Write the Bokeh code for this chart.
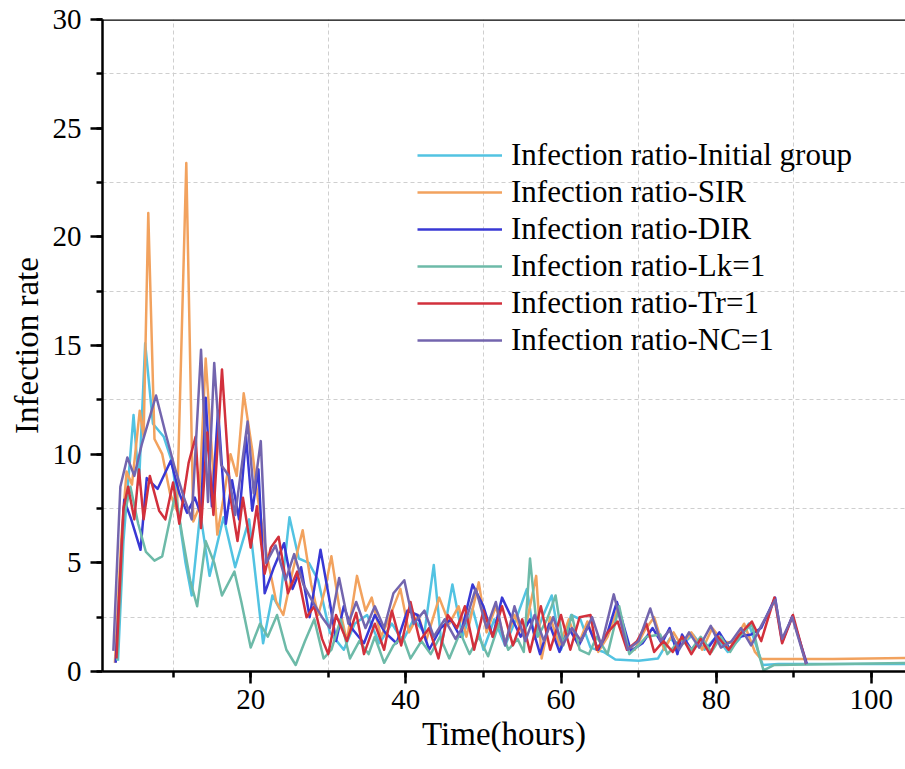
from bokeh.plotting import figure
from bokeh.models import (Range1d, SingleIntervalTicker, FixedTicker, Span, Legend)
from bokeh.embed import file_html
from bokeh.resources import INLINE

# ---------------- data ----------------
initial_x = [2.9, 3.6, 4.9, 5.6, 6.4, 7.4, 8.8, 9.9, 10.8, 11.6, 12.4, 13.5, 14.7, 16.5, 18.0, 19.8, 21.6, 22.8, 23.7,
             25.0, 26.2, 27.5, 28.7, 30.2, 32.0, 33.4, 35.0, 36.6, 38.2, 39.6, 41.0, 42.4, 43.6, 44.6, 46.0, 47.3, 48.6,
             50.0, 51.4, 52.8, 54.3, 55.6, 56.6, 57.6, 58.8, 60.0, 61.3, 62.5, 63.8, 65.5, 67.0, 70.0, 72.5, 74.0, 75.5,
             77.0, 78.5, 80.0, 81.5, 83.0, 84.2, 86.0, 88.0, 105.0]
initial_y = [0.5, 6.0, 11.8, 8.6, 15.1, 11.4, 10.8, 9.6, 7.0, 5.0, 3.5, 7.3, 4.4, 7.1, 4.8, 7.0, 1.3, 3.5, 2.9,
             7.1, 5.2, 5.0, 4.2, 1.8, 1.0, 2.2, 2.6, 1.3, 2.2, 1.4, 2.4, 1.8, 4.9, 1.2, 4.0, 1.6, 2.9,
             1.0, 2.4, 1.2, 2.5, 3.8, 1.5, 2.5, 3.5, 1.0, 2.6, 2.4, 1.1, 0.9, 0.55, 0.5, 0.6, 1.5, 1.2,
             1.7, 1.0, 1.6, 0.9, 1.5, 2.2, 0.3, 0.35, 0.35]

sir_x = [2.5, 3.3, 4.0, 4.7, 5.7, 6.2, 6.8, 7.6, 8.6, 9.6, 10.5, 11.7, 12.6, 13.3, 14.2, 15.7, 16.6, 17.4, 18.2, 19.1,
         20.2, 20.9, 22.0, 23.3, 24.2, 25.4, 26.7, 27.8, 28.7, 29.6, 30.4, 31.4, 32.4, 33.7, 34.8, 35.6, 36.8, 37.8,
         39.3, 40.4, 41.6, 42.6, 44.3, 45.6, 46.8, 47.8, 49.4, 50.4, 51.6, 52.8, 54.0, 55.2, 56.8, 57.5, 58.6, 59.8,
         61.0, 62.2, 63.4, 64.8, 66.0, 67.3, 68.5, 69.5, 70.8, 72.0, 73.3, 74.5, 75.5, 76.8, 78.2, 79.5, 80.8, 82.2,
         83.6, 85.0, 85.8, 95.0, 105.0]
sir_y = [0.4, 6.0, 9.2, 8.6, 12.0, 10.8, 21.1, 10.7, 10.0, 8.2, 7.4, 23.4, 6.9, 7.5, 14.4, 6.3, 8.2, 10.0, 9.0, 12.8,
         10.2, 8.0, 5.5, 3.2, 2.6, 4.6, 6.5, 4.0, 2.6, 3.8, 5.3, 3.0, 1.4, 4.4, 2.8, 3.4, 1.6, 2.4,
         3.8, 1.8, 2.6, 1.4, 3.4, 2.2, 3.0, 1.6, 4.1, 1.8, 3.0, 1.3, 2.6, 1.6, 4.4, 0.6, 2.5, 1.2,
         2.4, 1.2, 2.3, 0.9, 1.6, 2.9, 1.2, 1.0, 1.9, 2.5, 1.0, 1.8, 1.2, 1.8, 1.0, 2.0, 1.4, 1.3,
         2.2, 0.9, 0.57, 0.57, 0.62]

dir_x = [2.6, 3.7, 4.6, 5.8, 6.6, 8.0, 9.7, 10.8, 11.8, 12.8, 13.6, 14.2, 15.0, 15.8, 16.8, 17.6, 18.5, 19.4, 20.2,
         21.0, 21.8, 23.0, 24.3, 25.4, 26.5, 27.6, 29.0, 30.2, 31.0, 32.0, 33.0, 34.6, 36.0, 37.3, 38.8, 40.2, 41.5,
         43.0, 44.5, 45.8, 47.0, 48.6, 50.0, 51.2, 52.4, 53.6, 54.8, 56.0, 57.3, 58.5, 59.8, 61.0, 62.3, 63.5, 64.8,
         66.0, 67.2, 69.0, 70.5, 71.8, 73.0, 74.0, 75.0, 75.6, 76.8, 78.0, 79.0, 80.4, 81.8, 83.0, 84.5, 85.8, 87.6,
         88.5, 89.8, 91.7]
dir_y = [0.4, 7.9, 7.0, 5.6, 8.9, 8.4, 9.7, 8.2, 7.3, 8.0, 7.2, 12.6, 7.6, 12.0, 6.8, 8.8, 7.0, 10.8, 7.4,
         9.3, 3.6, 4.8, 5.9, 3.8, 4.8, 2.5, 5.6, 3.2, 1.4, 3.0, 2.0, 1.3, 2.6, 1.8, 1.3, 2.8, 2.6,
         1.0, 2.0, 2.4, 1.6, 4.0, 3.0, 1.6, 3.4, 2.5, 1.6, 2.4, 0.8, 2.2, 0.9, 2.0, 1.2, 2.1, 1.0,
         1.8, 3.2, 0.95, 1.3, 2.0, 1.3, 2.0, 0.8, 1.7, 1.0, 1.5, 1.1, 1.8, 1.0, 1.6, 1.7, 2.0, 3.4,
         1.35, 2.55, 0.34]

lk_x = [2.8, 3.6, 4.5, 5.5, 6.5, 7.6, 8.6, 9.6, 10.3, 11.2, 12.2, 13.1, 14.2, 15.3, 16.3, 17.9, 18.8, 20.0, 21.2,
        22.2, 23.4, 24.6, 25.8, 27.0, 28.2, 29.4, 30.4, 31.6, 32.8, 34.0, 35.2, 36.0, 37.2, 38.4, 39.6, 40.6, 42.0,
        43.2, 44.4, 45.6, 47.0, 48.2, 49.4, 50.6, 52.0, 53.2, 54.4, 55.2, 56.0, 57.0, 58.2, 59.3, 60.3, 61.4, 62.4,
        63.6, 64.6, 66.0, 67.5, 68.8, 70.0, 71.0, 72.8, 73.7, 75.5, 76.8, 78.0, 79.4, 80.6, 81.8, 83.0, 84.6, 85.5,
        86.1, 87.5, 105.0]
lk_y = [0.5, 7.0, 8.5, 6.8, 5.5, 5.1, 5.3, 7.0, 8.2, 6.2, 4.2, 3.0, 6.0, 5.0, 3.5, 4.6, 3.2, 1.1, 2.2,
        1.6, 2.6, 1.0, 0.3, 1.4, 2.4, 0.6, 1.0, 2.4, 0.6, 1.4, 0.8, 1.6, 0.4, 1.2, 1.6, 0.6, 1.4,
        0.8, 1.6, 0.6, 1.8, 0.8, 1.6, 0.7, 2.2, 1.0, 1.5, 0.9, 5.2, 1.6, 2.4, 3.5, 1.2, 2.6, 1.0,
        0.8, 1.6, 0.8, 3.0, 0.8, 1.2, 1.6, 1.7, 0.8, 1.5, 1.0, 1.6, 0.9, 1.6, 0.9, 1.6, 2.2, 0.8,
        0.05, 0.3, 0.4]

tr_x = [2.7, 3.6, 4.2, 5.0, 5.6, 6.2, 7.0, 8.2, 9.0, 10.0, 10.8, 12.0, 12.9, 13.6, 14.4, 15.2, 16.3, 17.4, 18.3,
        19.0, 20.0, 20.8, 21.8, 22.6, 23.6, 24.8, 26.0, 27.2, 28.2, 29.2, 30.0, 31.0, 32.4, 33.6, 34.6, 36.0, 37.2,
        38.2, 39.4, 40.6, 41.8, 43.0, 44.2, 45.4, 46.6, 47.6, 48.8, 50.0, 51.2, 52.4, 53.8, 55.0, 56.0, 57.4, 58.6,
        60.0, 61.2, 62.4, 63.8, 64.6, 66.0, 67.3, 68.5, 69.8, 71.0, 72.0, 73.2, 74.4, 75.6, 76.8, 78.0, 79.2, 80.2,
        81.6, 83.0, 84.6, 85.8, 87.5, 88.5, 89.9, 91.6]
tr_y = [0.6, 7.5, 8.5, 7.0, 9.3, 7.0, 9.0, 7.4, 7.0, 8.7, 6.8, 9.6, 10.8, 6.6, 11.0, 7.2, 13.9, 8.0, 6.0,
        8.0, 5.7, 7.6, 4.5, 5.7, 6.2, 3.6, 4.6, 2.5, 3.0, 1.5, 0.8, 2.6, 1.4, 2.7, 0.8, 2.2, 1.0,
        2.8, 1.2, 3.2, 1.4, 2.0, 0.6, 2.6, 2.0, 3.0, 1.0, 2.8, 1.6, 3.0, 1.2, 2.4, 0.9, 3.0, 1.0,
        2.6, 1.0, 2.5, 2.6, 1.0, 1.8, 2.3, 1.0, 1.4, 2.2, 0.9, 1.4, 0.9, 1.6, 0.8, 1.5, 0.8, 1.6,
        1.0, 1.7, 2.3, 1.4, 3.4, 1.3, 2.6, 0.34]

nc_x = [2.3, 3.2, 4.1, 5.0, 6.0, 7.8, 9.0, 10.2, 11.4, 12.4, 13.6, 14.5, 15.3, 16.2, 17.2, 18.0, 19.6, 20.4, 21.3,
        22.0, 23.2, 24.5, 25.6, 26.8, 28.0, 29.2, 30.2, 31.4, 32.6, 33.6, 34.8, 36.0, 37.2, 38.4, 39.8, 41.0, 42.4,
        43.6, 45.0, 46.4, 47.6, 49.0, 50.4, 51.6, 52.8, 54.0, 55.4, 56.6, 57.8, 59.0, 60.2, 61.4, 62.6, 64.0, 65.2,
        66.8, 68.6, 70.0, 71.5, 72.8, 74.0, 75.2, 76.5, 77.8, 79.3, 80.6, 82.0, 83.2, 84.5, 85.8, 87.6, 88.5, 89.8,
        91.6]
nc_y = [0.95, 8.5, 9.85, 9.0, 10.5, 12.7, 11.0, 9.4, 8.0, 7.0, 14.8, 7.8, 14.2, 9.5, 9.0, 7.2, 11.5, 8.2, 10.6,
        5.0, 5.8, 4.2, 5.4, 4.0, 3.2, 2.5, 2.0, 4.3, 2.2, 3.2, 2.0, 3.0, 2.0, 3.6, 4.2, 2.2, 2.8,
        1.6, 2.4, 1.5, 2.2, 3.8, 2.0, 3.2, 1.2, 3.0, 1.4, 2.6, 1.4, 2.5, 1.2, 2.0, 1.4, 2.5, 1.2,
        3.55, 1.0, 1.4, 2.9, 1.4, 1.9, 1.0, 1.8, 1.1, 2.1, 1.1, 1.4, 2.0, 1.2, 2.1, 3.3, 1.5, 2.5,
        0.34]

series_names = ["Infection ratio-Initial group", "Infection ratio-SIR", "Infection ratio-DIR",
                "Infection ratio-Lk=1", "Infection ratio-Tr=1", "Infection ratio-NC=1"]
series_colors = ["#52C3E2", "#F2A25E", "#3838D4", "#6DBAA8", "#D2303C", "#7365AE"]

x_major_ticks = 20
y_major_ticks = 5
x_grid_ticks = [10, 30, 50, 70, 90]
y_grid_ticks = [2.5, 7.5, 12.5, 17.5, 22.5, 27.5]

FONT = "Liberation Serif"

p = figure(width=905, height=769, output_backend="svg", toolbar_location=None,
           x_range=Range1d(0.9, 104.4), y_range=Range1d(0, 30),
           min_border_left=102, min_border_right=0, min_border_top=19, min_border_bottom=98)
p.outline_line_color = None
p.background_fill_color = "white"
p.border_fill_color = "white"

data = [(initial_x, initial_y), (sir_x, sir_y), (dir_x, dir_y), (lk_x, lk_y), (tr_x, tr_y), (nc_x, nc_y)]
items = []
for (xs, ys), name, col in zip(data, series_names, series_colors):
    r = p.line(xs, ys, line_color=col, line_width=2.5, line_join="round")
    items.append((name, [r]))

# axes
p.xaxis.ticker = SingleIntervalTicker(interval=x_major_ticks, num_minor_ticks=2)
p.yaxis.ticker = SingleIntervalTicker(interval=y_major_ticks, num_minor_ticks=2)
for ax in (p.xaxis[0], p.yaxis[0]):
    ax.axis_line_width = 2.5
    ax.axis_line_color = "black"
    ax.major_tick_line_width = 2.5
    ax.minor_tick_line_width = 2.5
    ax.major_tick_in = 0
    ax.major_tick_out = 12
    ax.minor_tick_in = 0
    ax.minor_tick_out = 6
    ax.major_label_text_font = FONT
    ax.major_label_text_font_size = "29px"
    ax.major_label_text_color = "black"
    ax.axis_label_text_font = FONT
    ax.axis_label_text_font_size = "33px"
    ax.axis_label_text_font_style = "normal"
    ax.axis_label_text_color = "black"
p.xaxis.axis_label = "Time(hours)"
p.yaxis.axis_label = "Infection rate"
p.xaxis.major_label_standoff = 6
p.yaxis.major_label_standoff = 9
p.xaxis.axis_label_standoff = 4
p.yaxis.axis_label_standoff = 5

# grids (dashed, at the minor positions only)
p.xgrid.ticker = FixedTicker(ticks=x_grid_ticks)
p.ygrid.ticker = FixedTicker(ticks=y_grid_ticks)
for g in (p.xgrid[0], p.ygrid[0]):
    g.grid_line_color = "#cfcfcf"
    g.grid_line_dash = "4 3"
    g.grid_line_width = 1

# top frame line
p.add_layout(Span(location=30, dimension="width", line_color="black", line_width=2.5))

legend = Legend(items=items, location=(315, 313))
legend.background_fill_alpha = 0
legend.border_line_color = None
legend.padding = 0
legend.margin = 0
legend.spacing = 1
legend.glyph_width = 85
legend.glyph_height = 30
legend.label_height = 30
legend.label_standoff = 9
legend.label_text_font = FONT
legend.label_text_font_size = "31px"
legend.label_text_color = "black"
p.add_layout(legend, "center")

open("out.html", "w").write(file_html(p, INLINE))
